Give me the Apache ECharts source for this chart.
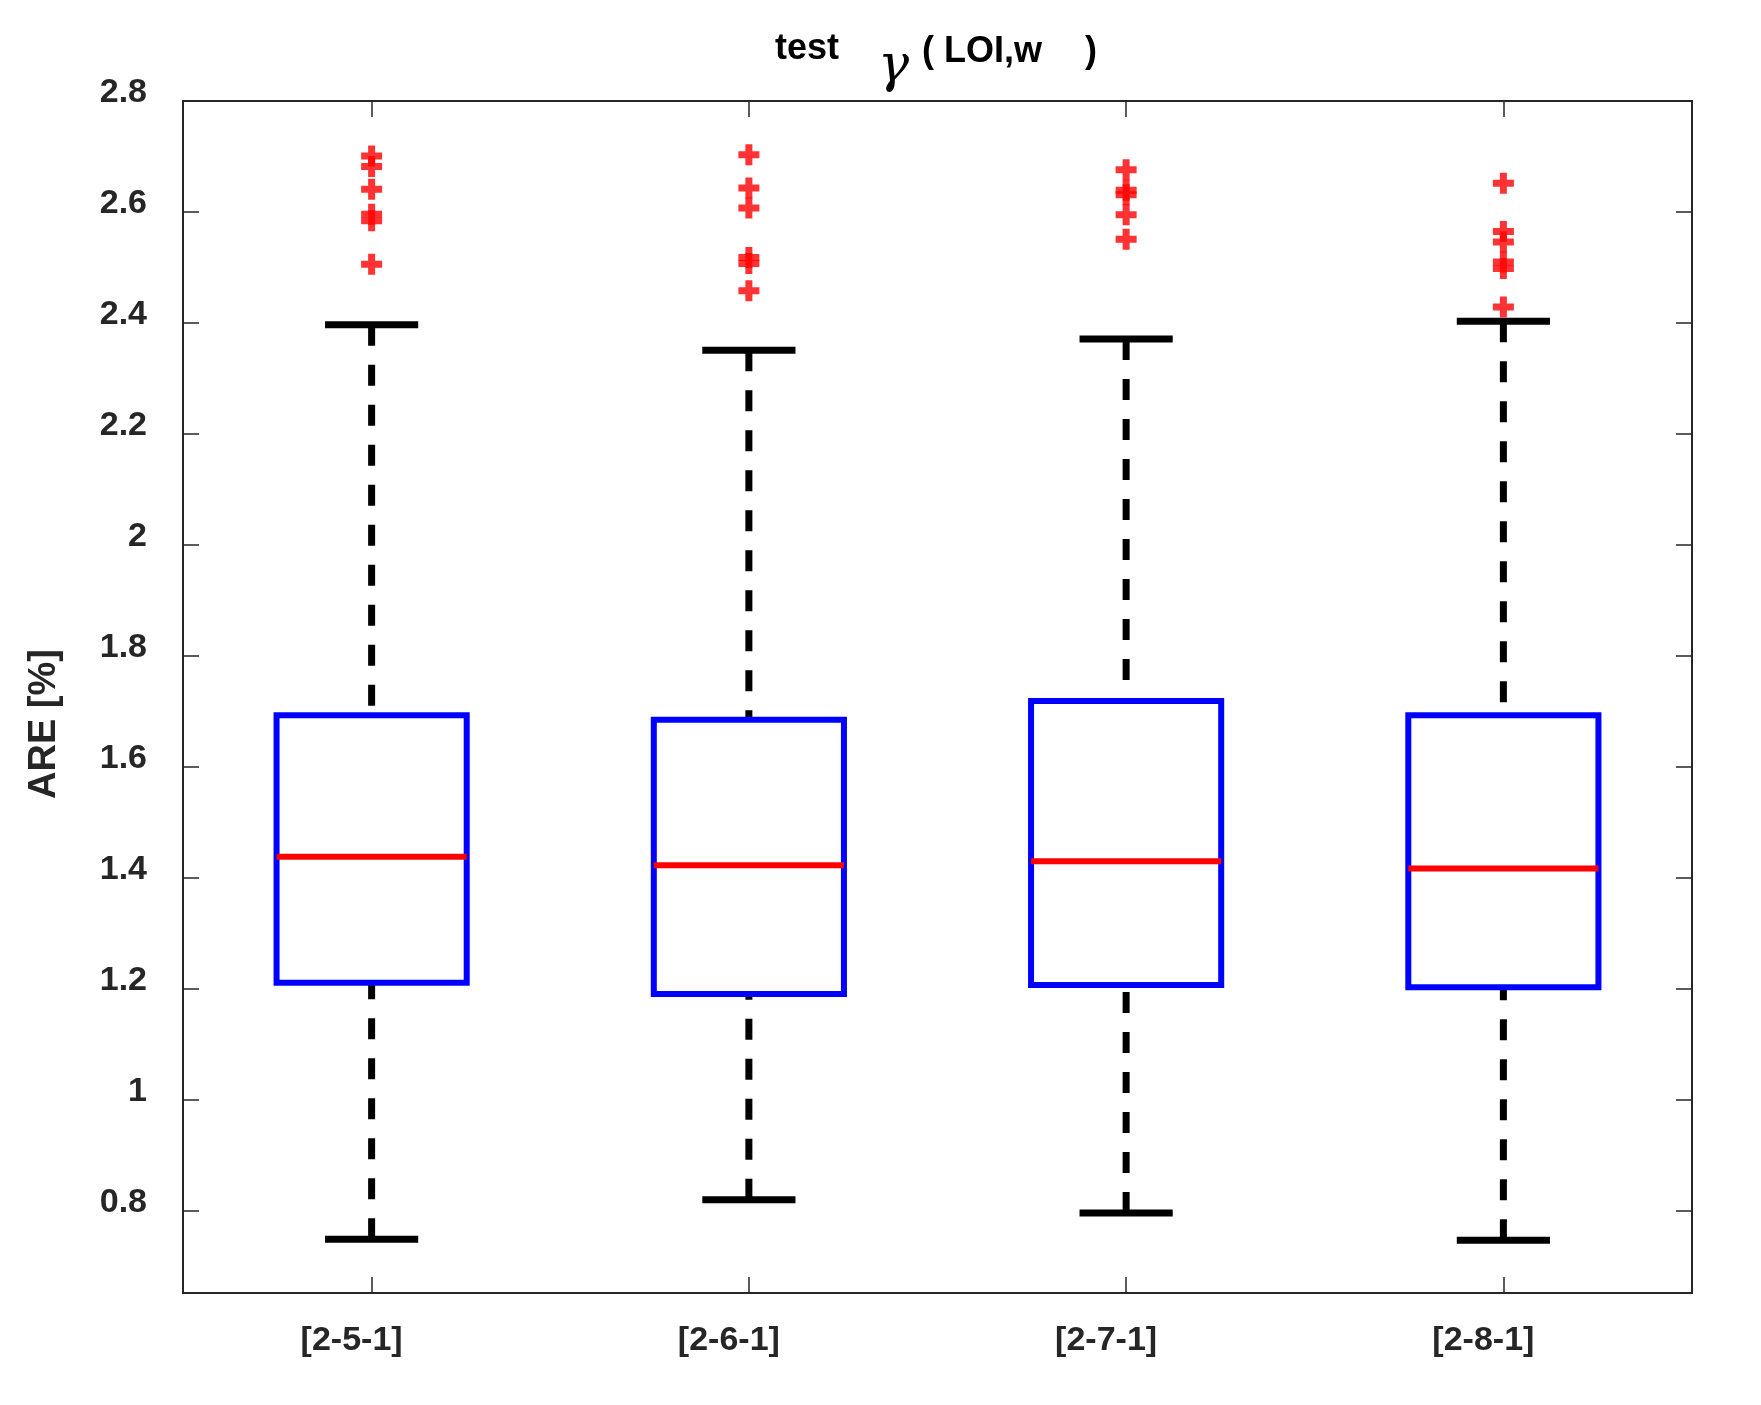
<!DOCTYPE html>
<html>
<head>
<meta charset="utf-8">
<script src="https://cdn.jsdelivr.net/npm/echarts@6/dist/echarts.min.js"></script>
<style>html,body{margin:0;padding:0;background:#fff}#c{width:1761px;height:1405px}</style>
</head>
<body>
<div id="c"></div>
<script>
const categories = ['[2-5-1]', '[2-6-1]', '[2-7-1]', '[2-8-1]'];
const whiskerLow  = [0.749, 0.820, 0.796, 0.747];
const q1          = [1.211, 1.191, 1.207, 1.203];
const medians     = [1.438, 1.423, 1.430, 1.417];
const q3          = [1.693, 1.685, 1.719, 1.693];
const whiskerHigh = [2.397, 2.351, 2.371, 2.403];
const outliers251 = [2.701, 2.682, 2.641, 2.596, 2.584, 2.506];
const outliers261 = [2.703, 2.643, 2.607, 2.518, 2.507, 2.458];
const outliers271 = [2.676, 2.639, 2.631, 2.595, 2.551];
const outliers281 = [2.652, 2.565, 2.546, 2.510, 2.498, 2.429];
const yTicks = [0.8, 1, 1.2, 1.4, 1.6, 1.8, 2, 2.2, 2.4, 2.6, 2.8];
const yMin = 0.652, yMax = 2.8;

const boxRows = categories.map((c, i) => [i, whiskerLow[i], q1[i], medians[i], q3[i], whiskerHigh[i]]);
const outlierRows = [];
[outliers251, outliers261, outliers271, outliers281].forEach((arr, i) => arr.forEach(v => outlierRows.push([i, v])));

const AX = '#262626';
const FONT = '"Liberation Sans", Arial, sans-serif';

function renderItem(params, api) {
  const i = api.value(0);
  const lo = api.coord([i, api.value(1)]);
  const b1 = api.coord([i, api.value(2)]);
  const md = api.coord([i, api.value(3)]);
  const b3 = api.coord([i, api.value(4)]);
  const hi = api.coord([i, api.value(5)]);
  const band = api.size([1, 0])[0];
  const bw = band * 0.504, cw = band * 0.247;
  const cx = lo[0];
  const dash = {stroke: '#000', lineWidth: 7, lineDash: [21, 19], fill: null};
  const solid = {stroke: '#000', lineWidth: 7, fill: null};
  return {
    type: 'group',
    children: [
      {type: 'line', shape: {x1: cx, y1: hi[1], x2: cx, y2: b3[1]}, style: dash},
      {type: 'line', shape: {x1: cx, y1: lo[1], x2: cx, y2: b1[1]}, style: dash},
      {type: 'line', shape: {x1: cx - cw / 2, y1: hi[1], x2: cx + cw / 2, y2: hi[1]}, style: solid},
      {type: 'line', shape: {x1: cx - cw / 2, y1: lo[1], x2: cx + cw / 2, y2: lo[1]}, style: solid},
      {type: 'rect', shape: {x: cx - bw / 2, y: b3[1], width: bw, height: b1[1] - b3[1]},
        style: {fill: null, stroke: '#0000ff', lineWidth: 6}},
      {type: 'line', shape: {x1: cx - bw / 2, y1: md[1], x2: cx + bw / 2, y2: md[1]},
        style: {stroke: '#ff0000', lineWidth: 6}}
    ]
  };
}

const chart = echarts.init(document.getElementById('c'), null, {renderer: 'canvas'});
const tickStyle = {show: true, inside: true, length: 16, lineStyle: {color: AX, width: 1.5}};
chart.setOption({
  animation: false,
  backgroundColor: '#fff',
  grid: {left: 183, right: 69, top: 101, bottom: 112, show: true, borderColor: AX, borderWidth: 2, backgroundColor: 'transparent'},
  xAxis: [
    {type: 'category', data: categories, position: 'bottom',
      axisLine: {show: false}, splitLine: {show: false},
      axisTick: Object.assign({alignWithLabel: true}, tickStyle),
      axisLabel: {color: AX, fontFamily: FONT, fontWeight: 'bold', fontSize: 34, margin: 31, padding: [0, 40, 0, 0]}},
    {type: 'category', data: categories, position: 'top',
      axisLine: {show: false}, splitLine: {show: false},
      axisTick: Object.assign({alignWithLabel: true}, tickStyle),
      axisLabel: {show: false}}
  ],
  yAxis: [
    {type: 'value', min: yMin, max: yMax, position: 'left',
      axisLine: {show: false}, splitLine: {show: false},
      axisTick: Object.assign({customValues: yTicks}, tickStyle),
      axisLabel: {customValues: yTicks, color: AX, fontFamily: FONT, fontWeight: 'bold', fontSize: 34, margin: 36,
        verticalAlign: 'bottom', lineHeight: 16}},
    {type: 'value', min: yMin, max: yMax, position: 'right',
      axisLine: {show: false}, splitLine: {show: false},
      axisTick: Object.assign({customValues: yTicks}, tickStyle),
      axisLabel: {show: false}}
  ],
  series: [
    {type: 'custom', xAxisIndex: 0, yAxisIndex: 0, data: boxRows, renderItem: renderItem,
      encode: {x: 0, y: [1, 2, 3, 4, 5]}, z: 2},
    {type: 'scatter', xAxisIndex: 0, yAxisIndex: 0, data: outlierRows,
      symbol: 'path://M7,0H14V7H21V14H14V21H7V14H0V7H7Z', symbolSize: 21,
      itemStyle: {color: '#ff0000'}, z: 3}
  ],
  graphic: [
    {type: 'text', x: 775, y: 31, style: {text: 'test', font: 'bold 36px ' + FONT, fill: '#000'}},
    {type: 'text', x: 878, y: 41, style: {text: 'γ', font: 'italic 52px "DejaVu Serif", serif', fill: '#000'}},
    {type: 'text', x: 922, y: 34, style: {text: '( LOI,w', font: 'bold 36px ' + FONT, fill: '#000'}},
    {type: 'text', x: 1085, y: 34, style: {text: ')', font: 'bold 36px ' + FONT, fill: '#000'}},
    {type: 'text', x: 45, y: 724, rotation: Math.PI / 2,
      style: {text: 'ARE [%]', font: 'bold 38px ' + FONT, fill: AX, align: 'center', verticalAlign: 'middle'}}
  ]
});
</script>
</body>
</html>
